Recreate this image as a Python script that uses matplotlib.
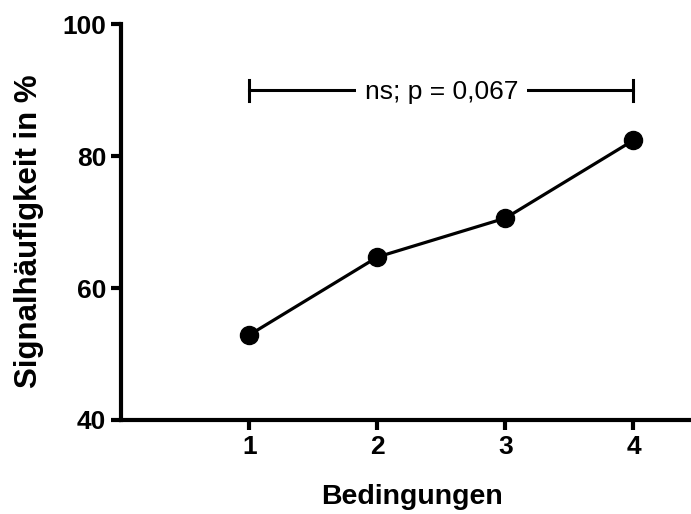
import matplotlib.pyplot as plt

plt.rcParams['font.family'] = ['Liberation Sans', 'DejaVu Sans']

# mean signal frequency per condition
bedingungen = [1, 2, 3, 4]
haeufigkeit = [52.9, 64.7, 70.6, 82.4]
p_text = 'ns; p = 0,067'
bracket_y = 90

fig = plt.figure(figsize=(6.91, 5.14), dpi=100)
ax = fig.add_axes([0.1758, 0.183, 0.8336, 0.770])

ax.plot(bedingungen, haeufigkeit, color='black', lw=2.3, marker='o',
        markersize=13, zorder=3, clip_on=False)

# significance bracket from condition 1 to 4
x0, x1 = bedingungen[0], bedingungen[-1]
ax.plot([x0, x1], [bracket_y, bracket_y], color='black', lw=2.2)
ax.plot([x0, x0], [bracket_y - 1.6, bracket_y + 1.6], color='black', lw=2.2)
ax.plot([x1, x1], [bracket_y - 1.6, bracket_y + 1.6], color='black', lw=2.2)
ax.text((x0 + x1) / 2, bracket_y - 0.3, p_text, ha='center', va='center',
        fontsize=19, bbox=dict(facecolor='white', edgecolor='none', pad=6))

ax.set_xlim(0, 4.5)
ax.set_ylim(40, 100)
ax.set_xticks(bedingungen)
ax.set_yticks([40, 60, 80, 100])

for side in ['top', 'right']:
    ax.spines[side].set_visible(False)
for side in ['left', 'bottom']:
    ax.spines[side].set_linewidth(3)
ax.tick_params(width=3, length=7, labelsize=19, pad=4)
for lab in ax.get_xticklabels() + ax.get_yticklabels():
    lab.set_fontweight('bold')

ax.set_xlabel('Bedingungen', fontsize=20.5, fontweight='bold')
ax.set_ylabel('Signalhäufigkeit in %', fontsize=22.5, fontweight='bold')
ax.xaxis.set_label_coords(0.505, -0.163)
ax.yaxis.set_label_coords(-0.135, 0.477)

fig.savefig('out.png', dpi=100)
